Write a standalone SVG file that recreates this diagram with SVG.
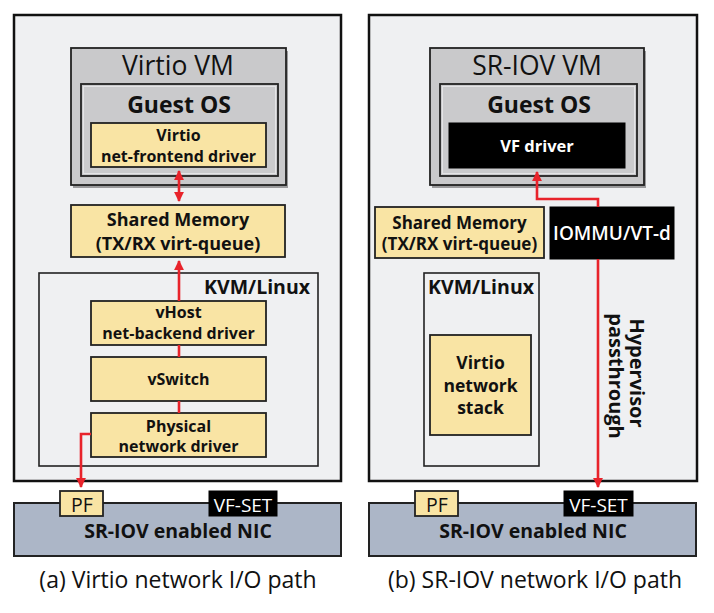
<svg xmlns="http://www.w3.org/2000/svg" width="714" height="613" viewBox="0 0 714 613">
<defs>
<marker id="ah" viewBox="0 0 10 10" refX="9" refY="5" markerWidth="3.8" markerHeight="3.8" orient="auto-start-reverse" markerUnits="strokeWidth">
<path d="M0,0 L10,5 L0,10 z" fill="#e8232b"/>
</marker>
<style>
.panel{fill:#eff0f2;stroke:#111;stroke-width:2.5}
.vm{fill:#c9c9cb;stroke:#222;stroke-width:1.8}
.shadow{fill:#9a9a9c}
.guest{fill:#cacacc;stroke:#222;stroke-width:1.8}
.inner{fill:none;stroke:#e4e4e6;stroke-width:1}
.y{fill:#f9e4a4;stroke:#222;stroke-width:1.8}
.blk{fill:#000;stroke:#000;stroke-width:1}
.kvm{fill:#eff0f2;stroke:#222;stroke-width:1.6}
.nic{fill:#acb6c7;stroke:#222;stroke-width:2}
.t{font-family:"Open Sans","Noto Sans","Liberation Sans",sans-serif;fill:#111;text-anchor:middle}
.b{font-weight:bold}
.w{fill:#fff}
.red{fill:none;stroke:#e8232b;stroke-width:2.6}
</style>
</defs>

<!-- Panel (a) -->
<g id="panel-a">
<rect class="panel" x="14" y="15" width="327" height="466"/>
</g>
<g id="virtio-vm">
<rect class="shadow" x="73" y="51" width="215" height="137"/>
<rect class="vm" x="71" y="48" width="215" height="137"/>
<text class="t" x="178" y="75" font-size="26.5">Virtio VM</text>
</g>
<g id="guest-os-a">
<rect class="guest" x="81" y="84" width="197" height="92"/>
<rect class="inner" x="83.5" y="86.5" width="192" height="87"/>
<text class="t b" x="179" y="113" font-size="23">Guest OS</text>
</g>
<g id="frontend">
<rect class="y" x="91" y="123" width="175" height="44"/>
<text class="t b" x="178.5" y="141" font-size="16">Virtio</text>
<text class="t b" x="178.5" y="162" font-size="16">net-frontend driver</text>
</g>
<g id="shm-a">
<rect class="y" x="71" y="205" width="214" height="52"/>
<text class="t b" x="178" y="226" font-size="18">Shared Memory</text>
<text class="t b" x="178" y="250" font-size="18">(TX/RX virt-queue)</text>
</g>
<g id="kvm-a">
<rect class="kvm" x="39" y="273" width="279" height="193"/>
<text class="t b" x="310" y="294" font-size="19.5" style="text-anchor:end">KVM/Linux</text>
</g>
<g id="vhost">
<rect class="y" x="91" y="301" width="175" height="44"/>
<text class="t b" x="178.5" y="318" font-size="16">vHost</text>
<text class="t b" x="178.5" y="339" font-size="16">net-backend driver</text>
</g>
<g id="vswitch">
<rect class="y" x="91" y="357" width="175" height="44"/>
<text class="t b" x="178.5" y="385" font-size="16">vSwitch</text>
</g>
<g id="phys">
<rect class="y" x="91" y="413" width="175" height="44"/>
<text class="t b" x="178.5" y="432" font-size="16">Physical</text>
<text class="t b" x="178.5" y="452" font-size="16">network driver</text>
</g>
<g id="nic-a">
<rect class="nic" x="14" y="503" width="327" height="53"/>
<text class="t b" x="178" y="538" font-size="19.5">SR-IOV enabled NIC</text>
</g>
<g id="pf-a">
<rect class="y" x="60" y="491" width="43" height="25"/>
<text class="t" x="82" y="512" font-size="19.5">PF</text>
</g>
<g id="vfset-a">
<rect class="blk" x="209" y="491" width="68" height="25"/>
<text class="t w" x="243" y="512" font-size="19">VF-SET</text>
</g>
<text class="t" x="178" y="588" font-size="23">(a) Virtio network I/O path</text>

<!-- Panel (b) -->
<g id="panel-b">
<rect class="panel" x="369" y="15" width="328" height="466"/>
</g>
<g id="sriov-vm">
<rect class="shadow" x="432" y="51" width="214" height="137"/>
<rect class="vm" x="430" y="48" width="214" height="137"/>
<text class="t" x="537" y="75" font-size="26.5">SR-IOV VM</text>
</g>
<g id="guest-os-b">
<rect class="guest" x="440" y="84" width="197" height="92"/>
<rect class="inner" x="442.5" y="86.5" width="192" height="87"/>
<text class="t b" x="539" y="113" font-size="23">Guest OS</text>
</g>
<g id="vf-driver">
<rect class="blk" x="449" y="123" width="176" height="45"/>
<text class="t b w" x="537" y="152" font-size="16.5">VF driver</text>
</g>
<g id="shm-b">
<rect class="y" x="375" y="207" width="169" height="51"/>
<text class="t b" x="459.5" y="229" font-size="17">Shared Memory</text>
<text class="t b" x="459.5" y="250" font-size="17">(TX/RX virt-queue)</text>
</g>
<g id="iommu">
<rect class="blk" x="550" y="207" width="124" height="52"/>
<text class="t w" x="612" y="240" font-size="19" font-weight="600">IOMMU/VT-d</text>
</g>
<g id="kvm-b">
<rect class="kvm" x="424" y="273" width="115" height="193"/>
<text class="t b" x="481" y="294" font-size="19.5">KVM/Linux</text>
</g>
<g id="virtio-stack">
<rect class="y" x="430" y="335" width="101" height="100"/>
<text class="t b" x="480.5" y="369" font-size="17.5">Virtio</text>
<text class="t b" x="480.5" y="392" font-size="17.5">network</text>
<text class="t b" x="480.5" y="414" font-size="17.5">stack</text>
</g>
<g id="nic-b">
<rect class="nic" x="369" y="503" width="327" height="53"/>
<text class="t b" x="533" y="538" font-size="19.5">SR-IOV enabled NIC</text>
</g>
<g id="pf-b">
<rect class="y" x="415" y="491" width="43" height="25"/>
<text class="t" x="437" y="512" font-size="19.5">PF</text>
</g>
<g id="vfset-b">
<rect class="blk" x="564" y="491" width="69" height="25"/>
<text class="t w" x="598.5" y="512" font-size="19">VF-SET</text>
</g>
<g id="passthrough-label">
<text class="t b" transform="translate(630,373) rotate(90)" font-size="20">Hypervisor</text>
<text class="t b" transform="translate(609,376) rotate(90)" font-size="20">passthrough</text>
</g>
<text class="t" x="535" y="588" font-size="23">(b) SR-IOV network I/O path</text>

<!-- Connectors -->
<g id="connectors">
<path class="red" d="M179,171 L179,201" marker-start="url(#ah)" marker-end="url(#ah)"/>
<path class="red" d="M179,301 L179,261" marker-end="url(#ah)"/>
<path class="red" d="M179,345 L179,357"/>
<path class="red" d="M179,401 L179,413"/>
<path class="red" d="M91,434 L81,434 L81,487" marker-end="url(#ah)"/>
<path class="red" d="M598,207 L598,199 L537,199 L537,172" marker-end="url(#ah)"/>
<path class="red" d="M598,259 L598,487" marker-end="url(#ah)"/>
</g>
</svg>
